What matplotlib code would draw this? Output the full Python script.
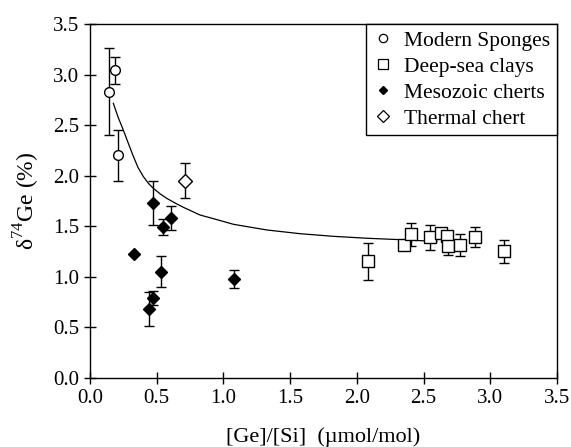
import matplotlib
matplotlib.use("Agg")
import matplotlib.pyplot as plt
from matplotlib.lines import Line2D

plt.rcParams["font.family"] = ["Liberation Serif", "DejaVu Serif"]
plt.rcParams["mathtext.fontset"] = "custom"
plt.rcParams["mathtext.rm"] = "Liberation Serif"

# Modern sponges
sponge_x = [0.145, 0.19, 0.21]
sponge_y = [2.83, 3.04, 2.20]
sponge_err = [0.43, 0.13, 0.25]

# Deep-sea clays
clay_x = [2.08, 2.35, 2.405, 2.55, 2.63, 2.675, 2.68, 2.77, 2.885, 3.105]
clay_y = [1.15, 1.31, 1.42, 1.39, 1.43, 1.40, 1.30, 1.31, 1.39, 1.25]
clay_err = [0.185, 0.0, 0.115, 0.125, 0.0, 0.0, 0.09, 0.11, 0.10, 0.115]

# Mesozoic cherts
chert_x = [0.33, 0.445, 0.47, 0.475, 0.53, 0.545, 0.605, 1.08]
chert_y = [1.22, 0.68, 1.73, 0.79, 1.05, 1.49, 1.58, 0.98]
chert_err = [0.0, 0.17, 0.22, 0.07, 0.155, 0.08, 0.12, 0.09]

# Thermal chert
thermal_x = [0.71]
thermal_y = [1.95]
thermal_err = [0.17]

# mixing curve
curve_x = [0.175, 0.21, 0.25, 0.29, 0.325, 0.36, 0.40, 0.44, 0.475, 0.525,
           0.575, 0.64, 0.70, 0.825, 0.9625, 1.075, 1.325, 1.575, 1.825,
           2.075, 2.325, 2.525, 2.60]
curve_y = [2.715, 2.58, 2.45, 2.31, 2.19, 2.08, 1.99, 1.92, 1.874, 1.82,
           1.775, 1.727, 1.686, 1.61, 1.56, 1.518, 1.462, 1.425, 1.399,
           1.38, 1.366, 1.353, 1.349]

fig = plt.figure(figsize=(5.71, 4.47), dpi=100)
ax = fig.add_axes([0.1576, 0.155, 0.8179, 0.7913])

ax.plot(curve_x, curve_y, color="black", lw=0.9, zorder=1)

ebkw = dict(ls="none", ecolor="black", elinewidth=1.0, capsize=3.5,
            capthick=1.0, mec="black", mew=1.0, zorder=2)
ax.errorbar(chert_x, chert_y, yerr=chert_err, fmt="D", ms=6,
            mfc="black", **ebkw)
ax.errorbar(thermal_x, thermal_y, yerr=thermal_err, fmt="D", ms=7.5,
            mfc="white", **ebkw)
ax.errorbar(clay_x, clay_y, yerr=clay_err, fmt="s", ms=8,
            mfc="white", **ebkw)
ax.errorbar(sponge_x, sponge_y, yerr=sponge_err, fmt="o", ms=7,
            mfc="white", **ebkw)

ax.set_xlim(0, 3.5)
ax.set_ylim(0, 3.5)
ax.set_xticks([0.0, 0.5, 1.0, 1.5, 2.0, 2.5, 3.0, 3.5])
ax.set_yticks([0.0, 0.5, 1.0, 1.5, 2.0, 2.5, 3.0, 3.5])
ax.xaxis.set_major_formatter(lambda v, p: f"{v:.1f}")
ax.yaxis.set_major_formatter(lambda v, p: f"{v:.1f}")
ax.tick_params(direction="inout", length=8, width=1.0, labelsize=15,
               top=False, right=False, pad=4)
for s in ax.spines.values():
    s.set_linewidth(1.0)

ax.set_xlabel("[Ge]/[Si]  (\u00b5mol/mol)", fontsize=16, labelpad=14)
ax.set_ylabel("\u03b4$^{74}$Ge (%)", fontsize=17, labelpad=8)

handles = [
    Line2D([], [], ls="none", marker="o", ms=6, mfc="white", mec="black", mew=0.9),
    Line2D([], [], ls="none", marker="s", ms=6.5, mfc="white", mec="black", mew=0.9),
    Line2D([], [], ls="none", marker="D", ms=4.5, mfc="black", mec="black"),
    Line2D([], [], ls="none", marker="D", ms=6, mfc="white", mec="black", mew=0.9),
]
labels = ["Modern Sponges", "Deep-sea clays", "Mesozoic cherts", "Thermal chert"]
leg = ax.legend(handles, labels, loc="upper right", borderaxespad=0,
                fontsize=15.5, fancybox=False, edgecolor="black",
                handlelength=1.0, handletextpad=0.5, labelspacing=0.28,
                borderpad=0.3, framealpha=1)
leg.get_frame().set_linewidth(1.0)

fig.savefig("out.png", dpi=100)
